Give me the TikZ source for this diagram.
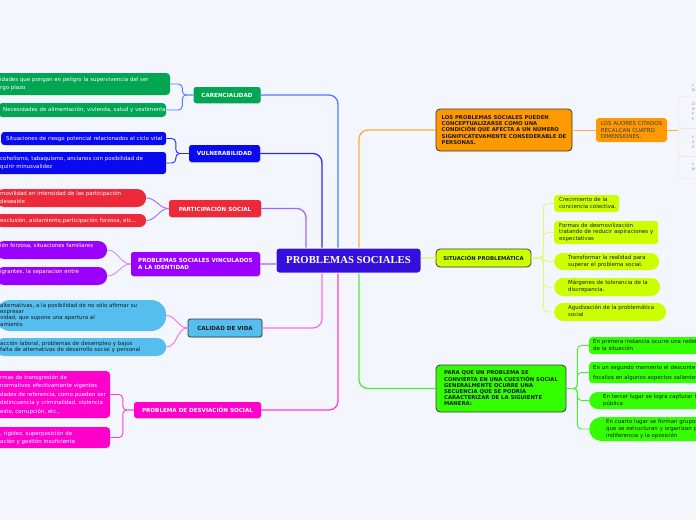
\documentclass[tikz,border=0pt]{standalone}
\usepackage{fontspec}
\setmainfont{DejaVu Sans}
\newfontfamily\corefont{Liberation Serif}
\usepackage{tikz}
\usetikzlibrary{positioning,calc,shadows}
\definecolor{bg}{HTML}{F3F6FD}
\definecolor{core}{HTML}{3410DA}
\definecolor{carc}{HTML}{00A651}
\definecolor{vuln}{HTML}{0A0AF0}
\definecolor{part}{HTML}{EE2A3A}
\definecolor{iden}{HTML}{9A00FF}
\definecolor{cali}{HTML}{55BEEE}
\definecolor{desv}{HTML}{FF00CC}
\definecolor{orng}{HTML}{FF9900}
\definecolor{lime}{HTML}{CCFF00}
\definecolor{lgrn}{HTML}{33FF00}
\definecolor{ink}{HTML}{1A1A1A}
\definecolor{frame}{HTML}{3A3A3A}
\definecolor{lnkcarc}{HTML}{4D7CFF}
\definecolor{lnkvuln}{HTML}{2A2AF5}
\definecolor{lnkpart}{HTML}{9B6BFF}
\definecolor{lnkiden}{HTML}{CF8CFF}
\definecolor{lnkcali}{HTML}{FF6AF0}
\definecolor{lnkdesv}{HTML}{FF3FD2}
\definecolor{lnkgrn}{HTML}{4CF02A}
\definecolor{lnklime}{HTML}{E3F77A}
\definecolor{edgeo}{HTML}{FFDDB0}
\newcommand\rows[1]{\begin{tabular}{@{}l@{}}#1\end{tabular}}

\begin{document}
\begin{tikzpicture}[x=1pt,y=-1pt,
  core/.style={fill=core,draw=white,line width=1pt,rounded corners=3pt,text=white,
               font=\corefont\bfseries\fontsize{10.7}{12}\selectfont,
               minimum width=145pt,minimum height=25pt},
  topic/.style={rounded corners=2.5pt,inner sep=0pt,align=left,text=white,
                font=\bfseries\fontsize{5.6}{7.3}\selectfont,
                drop shadow={shadow xshift=0.6pt,shadow yshift=-0.8pt,opacity=0.3}},
  branch/.style={draw=frame,line width=0.8pt,rounded corners=4pt,inner sep=0pt,
                 align=left,text=ink,font=\bfseries\fontsize{5.3}{6.2}\selectfont},
  leaf/.style={anchor=west,inner xsep=5pt,inner ysep=0pt,text=white,rounded corners=4pt,
               align=left,font=\fontsize{5.45}{7.5}\selectfont},
  edgebox/.style={anchor=north west,inner xsep=14pt,inner ysep=0pt,text width=20pt,
                  align=left,text=gray,font=\fontsize{3.6}{5}\selectfont},
  link/.style={line width=1.3pt,rounded corners=9pt},
  twig/.style={line width=0.9pt,rounded corners=4pt}]
\path[use as bounding box,fill=bg] (0,0) rectangle (696,520);
\clip (0,0) rectangle (696,520);

% centre
\node[core] (core) at (348.5,260.5) {PROBLEMAS SOCIALES};

% left topics
\node[topic,fill=carc,minimum width=67pt,minimum height=16pt] (carenc) at (227,95) {CARENCIALIDAD};
\node[topic,fill=vuln,minimum width=71pt,minimum height=17pt] (vuln) at (224.5,153.5) {VULNERABILIDAD};
\node[topic,fill=part,minimum width=92pt,minimum height=17pt] (part) at (215,208.5) {PARTICIPACIÓN SOCIAL};
\node[topic,fill=iden,minimum width=129pt,minimum height=24pt] (iden) at (195.5,264) {PROBLEMAS SOCIALES VINCULADOS\\A LA IDENTIDAD};
\node[topic,fill=cali,draw=frame,line width=0.8pt,text=ink,minimum width=74pt,minimum height=18pt] (cali) at (225,328) {CALIDAD DE VIDA};
\node[topic,fill=desv,minimum width=127pt,minimum height=16pt] (desv) at (197.5,410) {PROBLEMA DE DESVIACIÓN SOCIAL};

% right branches
\node[branch,fill=orng,minimum width=136pt,minimum height=42pt] (orng) at (504,130)
  {LOS PROBLEMAS SOCIALES PUEDEN\\CONCEPTUALIZARSE COMO UNA\\CONDICIÓN QUE AFECTA A UN NÚMERO\\SIGNIFICATEVAMENTE CONSEDERABLE DE\\PERSONAS.};
\node[fill=orng,rounded corners=3pt,inner sep=0pt,align=left,text=ink!85,
      font=\fontsize{5.5}{6.3}\selectfont,minimum width=71pt,minimum height=24pt] (dims) at (631.5,130)
  {LOS AUORES CITADOS\\RECALCAN CUATRO\\DIMENSIONES.};
\node[branch,fill=lime,minimum width=95pt,minimum height=18pt] (sit) at (483.5,258) {SITUACIÓN PROBLEMÁTICA};
\node[branch,fill=lgrn,minimum width=130pt,minimum height=47pt] (seq) at (501,388.5)
  {PARA QUE UN PROBLEMA SE\\CONVIERTA EN UNA CUESTIÓN SOCIAL\\GENERALMENTE OCURRE UNA\\SECUENCIA QUE SE PODRÍA\\CARACTERIZAR DE LA SIGUIENTE\\MANERA:};

% leaves, left
\node[leaf,fill=carc,text width=165pt,minimum height=22pt,font=\fontsize{5.45}{8.3}\selectfont] (c1) at (-5,84)
  {\rows{idades que pongan en peligro la supervivencia del ser\\rgo plazo}};
\node[leaf,fill=carc,text width=158pt,minimum height=14pt] (c2) at (-2,110)
  {\rows{Necesidades de alimentación, vivienda, salud y vestimenta}};
\node[leaf,fill=vuln,text width=155pt,minimum height=13pt,rounded corners=3pt] (v1) at (1,138.5)
  {\rows{Situaciones de riesgo potencial relacionados al ciclo vital}};
\node[leaf,fill=vuln,text width=161pt,minimum height=22pt,rounded corners=3pt,font=\fontsize{5.45}{8.3}\selectfont] (v2) at (-5,163)
  {\rows{coholismo, tabaquismo, ancianos con posibilidad de\\quirir minusvalidez}};
\node[leaf,fill=part,text width=141pt,minimum height=18pt,rounded corners=9pt] (p1) at (-5,198)
  {\rows{movilidad en intensidad de las participación\\deseable}};
\node[leaf,fill=part,text width=141pt,minimum height=13pt,rounded corners=6.5pt] (p2) at (-5,220.5)
  {\rows{exclusión, aislamiento,participación forzosa, etc...}};
\node[leaf,fill=iden,text width=102pt,minimum height=18pt,rounded corners=9pt] (i1) at (-5,250)
  {\rows{ión forzosa, situaciones familiares\\ {}}};
\node[leaf,fill=iden,text width=102pt,minimum height=18pt,rounded corners=9pt] (i2) at (-5,276)
  {\rows{igrantes, la separacion entre\\ {}}};
\node[leaf,fill=cali,text=ink,text width=161pt,minimum height=31pt,rounded corners=15pt,font=\fontsize{5.45}{6.3}\selectfont] (k1) at (-5,315.5)
  {\rows{alternativas, a la posibilidad de no sólo afirmar su\\expresar\\vidad, que supone una apertura al\\amiento}};
\node[leaf,fill=cali,text=ink,text width=161pt,minimum height=18pt,rounded corners=9pt,font=\fontsize{5.45}{6.3}\selectfont] (k2) at (-5,347)
  {\rows{acción laboral, problemas de desempleo y bajos\\ falta de alternativas de desarrollo social y personal}};
\node[leaf,fill=desv,text width=105pt,minimum height=47pt,font=\fontsize{5.45}{8.5}\selectfont] (d1) at (-5,394.5)
  {\rows{rmas de transgresión de\\normativos efectivamente vigentes\\dades de referencia, como pueden ser\\delincuencia y criminalidad, violencia\\esto, corrupción, etc.,}};
\node[leaf,fill=desv,text width=105pt,minimum height=21pt,font=\fontsize{5.45}{8}\selectfont] (d2) at (-5,437.5)
  {\rows{, rigidez, superposición de\\ación y gestión insuficiente}};

% leaves, right
\node[leaf,fill=lime,text=ink,text width=55pt,minimum height=17pt,rounded corners=3pt,font=\fontsize{5.45}{6.5}\selectfont] (s1) at (554,203.5)
  {\rows{Crecimiento de la\\conciencia colectiva.}};
\node[leaf,fill=lime,text=ink,text width=94pt,minimum height=23pt,rounded corners=3pt,font=\fontsize{5.45}{6.5}\selectfont] (s2) at (554,232.5)
  {\rows{Formas de desmovilización\\tratando de reducir aspiraciones y\\expectativas}};
\node[leaf,fill=lime,text=ink,inner xsep=14pt,text width=77pt,minimum height=17pt,rounded corners=8.5pt,font=\fontsize{5.45}{7}\selectfont] (s3) at (554,261.5)
  {\rows{Transformar la realidad para\\superar el problema social.}};
\node[leaf,fill=lime,text=ink,inner xsep=14pt,text width=78pt,minimum height=18pt,rounded corners=9pt,font=\fontsize{5.45}{7}\selectfont] (s4) at (554,287)
  {\rows{Márgenes de tolerancia de la\\discrepancia.}};
\node[leaf,fill=lime,text=ink,inner xsep=14pt,text width=84pt,minimum height=18pt,rounded corners=9pt,font=\fontsize{5.45}{7}\selectfont] (s5) at (554,312)
  {\rows{Agudización de la problemática\\social}};
\node[leaf,fill=lgrn,text=ink,inner xsep=4pt,text width=130pt,minimum height=17pt,rounded corners=3pt,font=\fontsize{5.45}{7.7}\selectfont] (g1) at (589,345.5)
  {\rows{En primera instancia ocurre una redefinic\\de la situación}};
\node[leaf,fill=lgrn,text=ink,inner xsep=4pt,text width=130pt,minimum height=21pt,rounded corners=3pt,font=\fontsize{5.45}{9.5}\selectfont] (g2) at (589,372.5)
  {\rows{En un segundo momento el desconte\\focaliza en algunos aspectos salientes}};
\node[leaf,fill=lgrn,text=ink,inner xsep=14pt,text width=120pt,minimum height=17pt,rounded corners=8.5pt,font=\fontsize{5.45}{7.3}\selectfont] (g3) at (589,400.5)
  {\rows{En tercer lugar se logra capturar l\\pública}};
\node[leaf,fill=lgrn,text=ink,inner xsep=17pt,text width=120pt,minimum height=24pt,rounded corners=12pt,font=\fontsize{5.45}{7}\selectfont] (g4) at (589,429)
  {\rows{En cuarto lugar se forman grupos\\que se estructuran y organizan p\\indiferencia y la oposición}};

% cut off at the right edge
\node[edgebox,minimum height=16pt] (e1) at (678,80) {\rows{L\\N}};
\node[edgebox,draw=edgeo,rounded corners=4pt,minimum height=32pt] (e2) at (678,96) {\rows{D\\D\\F\\F}};
\node[edgebox,draw=edgeo,rounded corners=4pt,minimum height=28pt] (e3) at (678,128) {\rows{L\\S\\C}};
\node[edgebox,draw=edgeo,rounded corners=4pt,minimum height=22pt] (e4) at (678,156) {\rows{L\\N}};

% main links
\draw[link,draw=lnkcarc] (carenc.east) -| ([xshift=-10.5pt]core.north);
\draw[link,draw=lnkvuln] (vuln.east) -| ([xshift=-26.5pt]core.north);
\draw[link,draw=lnkpart] (part.east) -| ([xshift=-42.5pt]core.north);
\draw[link,draw=lnkiden] (iden.east) -- (iden.east -| core.west);
\draw[link,draw=lnkcali] (cali.east) -| ([xshift=-26.5pt]core.south);
\draw[link,draw=lnkdesv] (desv.east) -| ([xshift=-10.5pt]core.south);
\draw[link,draw=orng!80] (orng.west) -| ([xshift=10.5pt]core.north);
\draw[link,draw=lnkgrn] (seq.west) -| ([xshift=10.5pt]core.south);
\draw[link,draw=lnklime] (sit.west) -- (sit.west -| core.east);

% twigs
\foreach \n in {c1,c2} \draw[twig,draw=lnkcarc] (carenc.west) -- ++(-11,0) |- (\n.east);
\foreach \n in {v1,v2} \draw[twig,draw=lnkvuln] (vuln.west) -- ++(-13,0) |- (\n.east);
\foreach \n in {p1,p2} \draw[twig,draw=lnkpart] (part.west) to[out=180,in=0] (\n.east);
\foreach \n in {i1,i2} \draw[twig,draw=lnkiden] (iden.west) to[out=180,in=0] (\n.east);
\foreach \n in {k1,k2} \draw[twig,draw=lnkcali] (cali.west) to[out=180,in=0] (\n.east);
\foreach \n in {d1,d2} \draw[twig,draw=lnkdesv] (desv.west) -- ++(-11,0) |- (\n.east);
\foreach \n in {s1,s2,s3,s4,s5} \draw[twig,draw=lnklime] (sit.east) -- ++(12,0) |- (\n.west);
\foreach \n in {g1,g2,g3,g4} \draw[twig,draw=lnkgrn] (seq.east) -- ++(11,0) |- (\n.west);
\draw[twig,draw=orng!80] (orng.east) -- (dims.west);
\draw[twig,draw=orng!80] (dims.east) -- (dims.east -| e2.west);
\end{tikzpicture}
\end{document}
